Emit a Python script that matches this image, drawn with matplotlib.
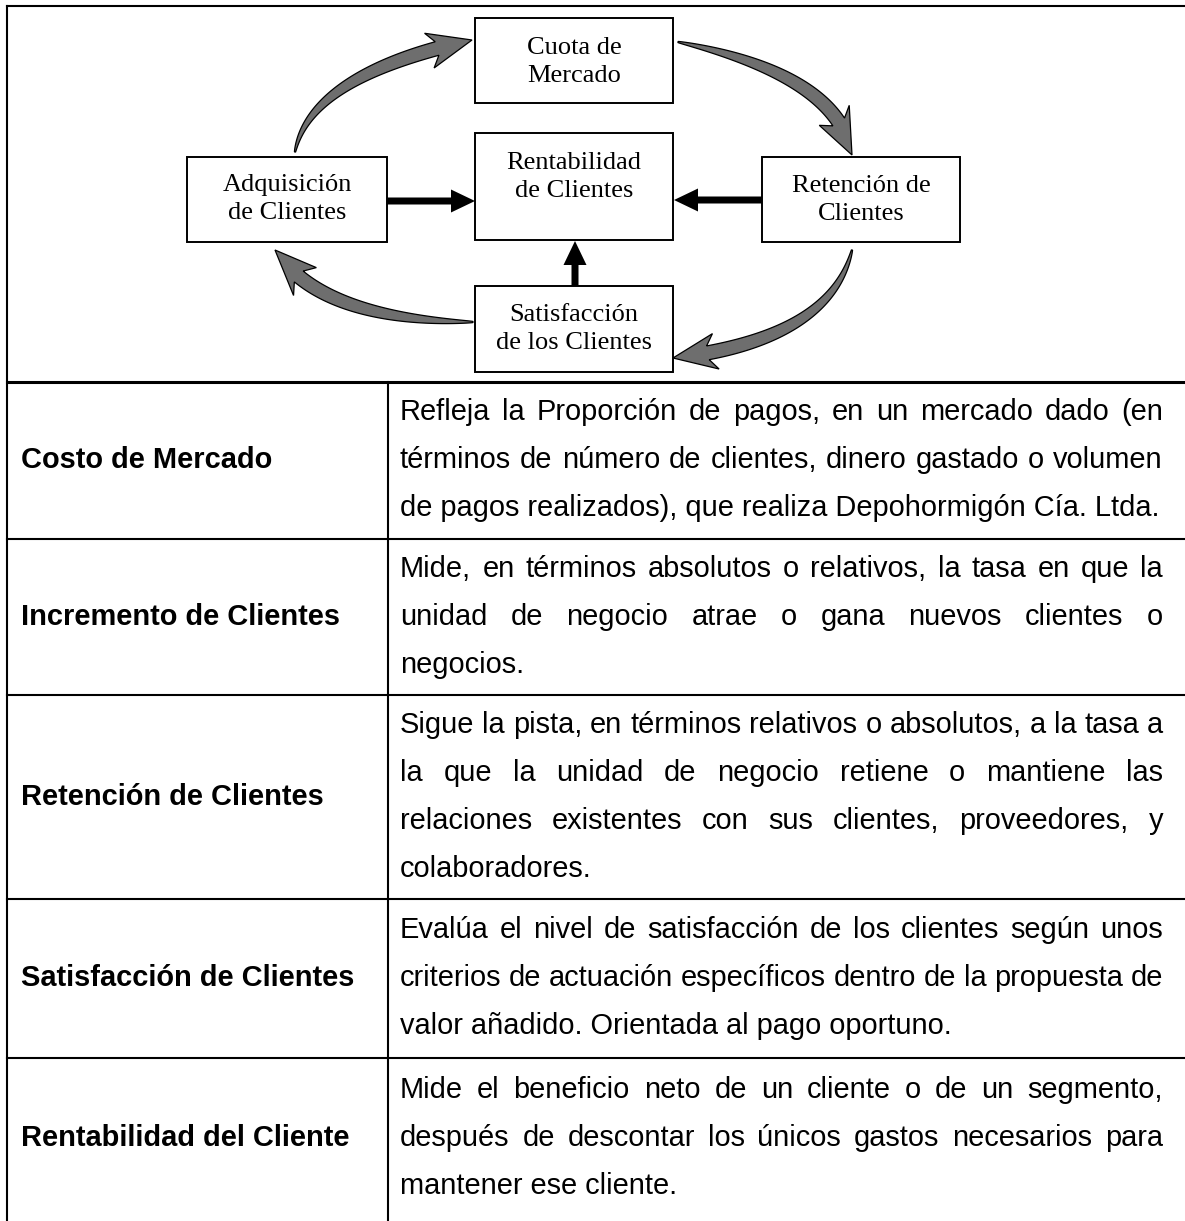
import numpy as np
import matplotlib
matplotlib.use("Agg")
import matplotlib.pyplot as plt
from matplotlib.patches import Rectangle, Polygon, FancyArrow

# ---- data ----
box_labels = ["Cuota de\nMercado", "Rentabilidad\nde Clientes", "Adquisición\nde Clientes",
              "Retención de\nClientes", "Satisfacción\nde los Clientes"]

row_labels = ["Costo de Mercado", "Incremento de Clientes", "Retención de Clientes",
              "Satisfacción de Clientes", "Rentabilidad del Cliente"]

row_texts = [
    ["Refleja la Proporción de pagos, en un mercado dado (en",
     "términos de número de clientes, dinero gastado o volumen",
     "de pagos realizados), que realiza Depohormigón Cía. Ltda."],
    ["Mide, en términos absolutos o relativos, la tasa en que la",
     "unidad de negocio atrae o gana nuevos clientes o",
     "negocios."],
    ["Sigue la pista, en términos relativos o absolutos, a la tasa a",
     "la que la unidad de negocio retiene o mantiene las",
     "relaciones existentes con sus clientes, proveedores, y",
     "colaboradores."],
    ["Evalúa el nivel de satisfacción de los clientes según unos",
     "criterios de actuación específicos dentro de la propuesta de",
     "valor añadido. Orientada al pago oportuno."],
    ["Mide el beneficio neto de un cliente o de un segmento,",
     "después de descontar los únicos gastos necesarios para",
     "mantener ese cliente."],
]

# ---- layout (pixels, y down) ----
W, H = 1185, 1221
box_rects = [(475, 18, 198, 85), (475, 133, 198, 107), (187, 157, 200, 85),
             (762, 157, 198, 85), (475, 286, 198, 86)]
box_text_y = [62, 177, 199, 200, 329]
row_edges = [382, 539, 695, 899, 1058, H]
col_x = 388
left_x = 7
top_y = 6
pitch = 48
txt_x0, txt_x1 = 400, 1163

fig = plt.figure(figsize=(W / 100, H / 100), dpi=100)
ax = fig.add_axes([0, 0, 1, 1])
ax.set_xlim(0, W)
ax.set_ylim(H, 0)
ax.axis("off")

lw = 1.5
# frame and table lines
ax.plot([left_x, W], [top_y, top_y], color="black", lw=lw)
ax.plot([left_x, left_x], [top_y, H], color="black", lw=lw)
ax.plot([left_x, W], [row_edges[0], row_edges[0]], color="black", lw=2.2)
for y in row_edges[1:-1]:
    ax.plot([left_x, W], [y, y], color="black", lw=lw)
ax.plot([col_x, col_x], [row_edges[0], H], color="black", lw=lw)

# diagram boxes
serif = "Liberation Serif"
for (x, y, w, h), lab, ty in zip(box_rects, box_labels, box_text_y):
    ax.add_patch(Rectangle((x, y), w, h, fill=False, ec="black", lw=1.4))
    ax.text(x + w / 2, ty, lab, ha="center", va="center", multialignment="center",
            fontsize=19, family=serif, linespacing=1.3)

# straight black arrows into the centre box
for x, y, dx, dy in [(387, 201, 88, 0), (762, 200, -88, 0), (575, 286, 0, -45)]:
    ax.add_patch(FancyArrow(x, y, dx, dy, width=7, head_width=23, head_length=24,
                            length_includes_head=True, color="black", lw=0))


def curved_arrow(p0, p1, p2, wmax=14, head_w=36, head_len=36):
    p0, p1, p2 = map(np.array, (p0, p1, p2))
    t = np.linspace(0, 1, 300)[:, None]
    pts = (1 - t) ** 2 * p0 + 2 * (1 - t) * t * p1 + t ** 2 * p2
    seg = np.hypot(*np.diff(pts, axis=0).T)
    s = np.concatenate([[0], np.cumsum(seg)])
    sb = s[-1] - head_len
    k = np.searchsorted(s, sb)
    body = pts[:k + 1]
    tang = np.gradient(body, axis=0)
    tang /= np.hypot(tang[:, 0], tang[:, 1])[:, None]
    nrm = np.column_stack([-tang[:, 1], tang[:, 0]])
    frac = s[:k + 1] / sb
    wid = wmax * (0.08 + 0.92 * np.sin(np.clip(frac, 0, 1) * np.pi / 2) ** 0.8)
    left = body + nrm * wid[:, None] / 2
    right = body - nrm * wid[:, None] / 2
    b = body[-1]
    n = nrm[-1]
    tg = tang[-1]
    barb1 = b + n * head_w / 2 - tg * 8
    barb2 = b - n * head_w / 2 - tg * 8
    poly = np.vstack([left, barb1, p2, barb2, right[::-1]])
    ax.add_patch(Polygon(poly, closed=True, fc="#6e6e6e", ec="black", lw=0.9))


curved_arrow((295, 152), (310, 75), (472, 40))
curved_arrow((678, 42), (838, 75), (852, 155))
curved_arrow((852, 250), (830, 340), (673, 358))
curved_arrow((473, 322), (320, 320), (275, 250))

# table text
sans = "Liberation Sans"
fs = 20.85
fig.canvas.draw()
renderer = fig.canvas.get_renderer()


def word_width(w):
    t = ax.text(0, 0, w, fontsize=fs, family=sans)
    bb = t.get_window_extent(renderer)
    t.remove()
    return bb.width


for i, (lab, lines) in enumerate(zip(row_labels, row_texts)):
    r0, r1 = row_edges[i], row_edges[i + 1]
    cy = (r0 + r1) / 2 if i < len(row_labels) - 1 else r0 + (r0 - row_edges[i - 1]) / 2
    ax.text(21, cy, lab, ha="left", va="center", fontsize=fs, family=sans,
            fontweight="bold")
    n = len(lines)
    for j, line in enumerate(lines):
        y = cy + (j - (n - 1) / 2) * pitch
        words = line.split(" ")
        last = j == n - 1
        if last or len(words) == 1:
            ax.text(txt_x0, y, line, ha="left", va="center", fontsize=fs, family=sans)
            continue
        widths = [word_width(w) for w in words]
        gap = (txt_x1 - txt_x0 - sum(widths)) / (len(words) - 1)
        x = txt_x0
        for w, ww in zip(words, widths):
            ax.text(x, y, w, ha="left", va="center", fontsize=fs, family=sans)
            x += ww + gap

fig.savefig("out.png", dpi=100)
